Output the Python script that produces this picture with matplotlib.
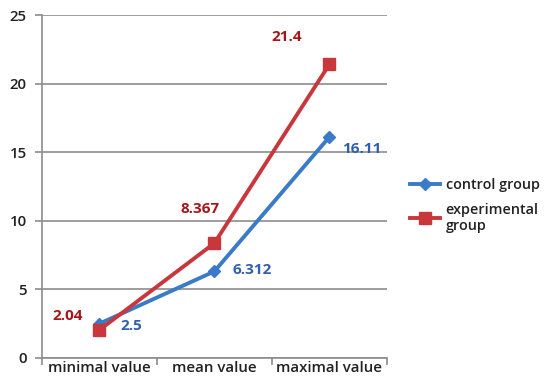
import matplotlib
matplotlib.use("Agg")
import matplotlib.pyplot as plt

plt.rcParams['font.family'] = ['Open Sans', 'DejaVu Sans']

categories = ["minimal value", "mean value", "maximal value"]
control = [2.5, 6.312, 16.11]
experimental = [2.04, 8.367, 21.4]
control_labels = ["2.5", "6.312", "16.11"]
experimental_labels = ["2.04", "8.367", "21.4"]
yticks = [0, 5, 10, 15, 20, 25]

blue = "#3A7BC8"
red = "#C8373C"
blue_txt = "#2F5FAE"
red_txt = "#A5161B"
grid_c = "#8C8C8C"

fig = plt.figure(figsize=(5.44, 3.81), dpi=100)
ax = fig.add_axes([0.077, 0.0604, 0.634, 0.9])

x = list(range(len(categories)))
ax.plot(x, control, color=blue, lw=2.8, marker="D", ms=6, label="control group", zorder=3)
ax.plot(x, experimental, color=red, lw=2.8, marker="s", ms=9, label="experimental\ngroup", zorder=4)

ax.set_xlim(-0.5, 2.5)
ax.set_ylim(0, 25)
ax.set_yticks(yticks)
ax.set_yticklabels([str(v) for v in yticks])
ax.set_xticks(x)
ax.set_xticklabels(categories)
ax.tick_params(axis="x", length=0, pad=2)
ax.set_xticks([-0.5, 0.5, 1.5, 2.5], minor=True)
ax.tick_params(axis="x", which="minor", length=5, color=grid_c, width=1.2)
ax.tick_params(axis="y", length=5, color=grid_c, width=1.2, pad=6)
for lbl in ax.get_xticklabels() + ax.get_yticklabels():
    lbl.set_fontsize(10.8)
    lbl.set_fontweight("semibold")
    lbl.set_color("#222222")

ax.grid(axis="y", color=grid_c, lw=1.2)
ax.set_axisbelow(True)
for s in ["top", "right"]:
    ax.spines[s].set_visible(False)
for s in ["left", "bottom"]:
    ax.spines[s].set_color(grid_c)
    ax.spines[s].set_linewidth(1.2)

ctrl_off = [(32, -2), (38, 1), (33, -12)]
exp_off = [(-32, 14), (-14, 34), (-43, 27)]
for i in range(3):
    ax.annotate(control_labels[i], (x[i], control[i]), xytext=ctrl_off[i],
                textcoords="offset pixels", ha="center", va="center",
                color=blue_txt, fontsize=11, fontweight="bold")
    ax.annotate(experimental_labels[i], (x[i], experimental[i]), xytext=exp_off[i],
                textcoords="offset pixels", ha="center", va="center",
                color=red_txt, fontsize=11, fontweight="bold")

leg = fig.legend(loc="upper left", bbox_to_anchor=(0.73, 0.568), frameon=False,
                 handlelength=2.1, handletextpad=0.35, labelspacing=0.8,
                 prop={"size": 10.4, "weight": "semibold"})
for t in leg.get_texts():
    t.set_color("#222222")
    t.set_linespacing(1.15)

fig.savefig("out.png", dpi=100)
